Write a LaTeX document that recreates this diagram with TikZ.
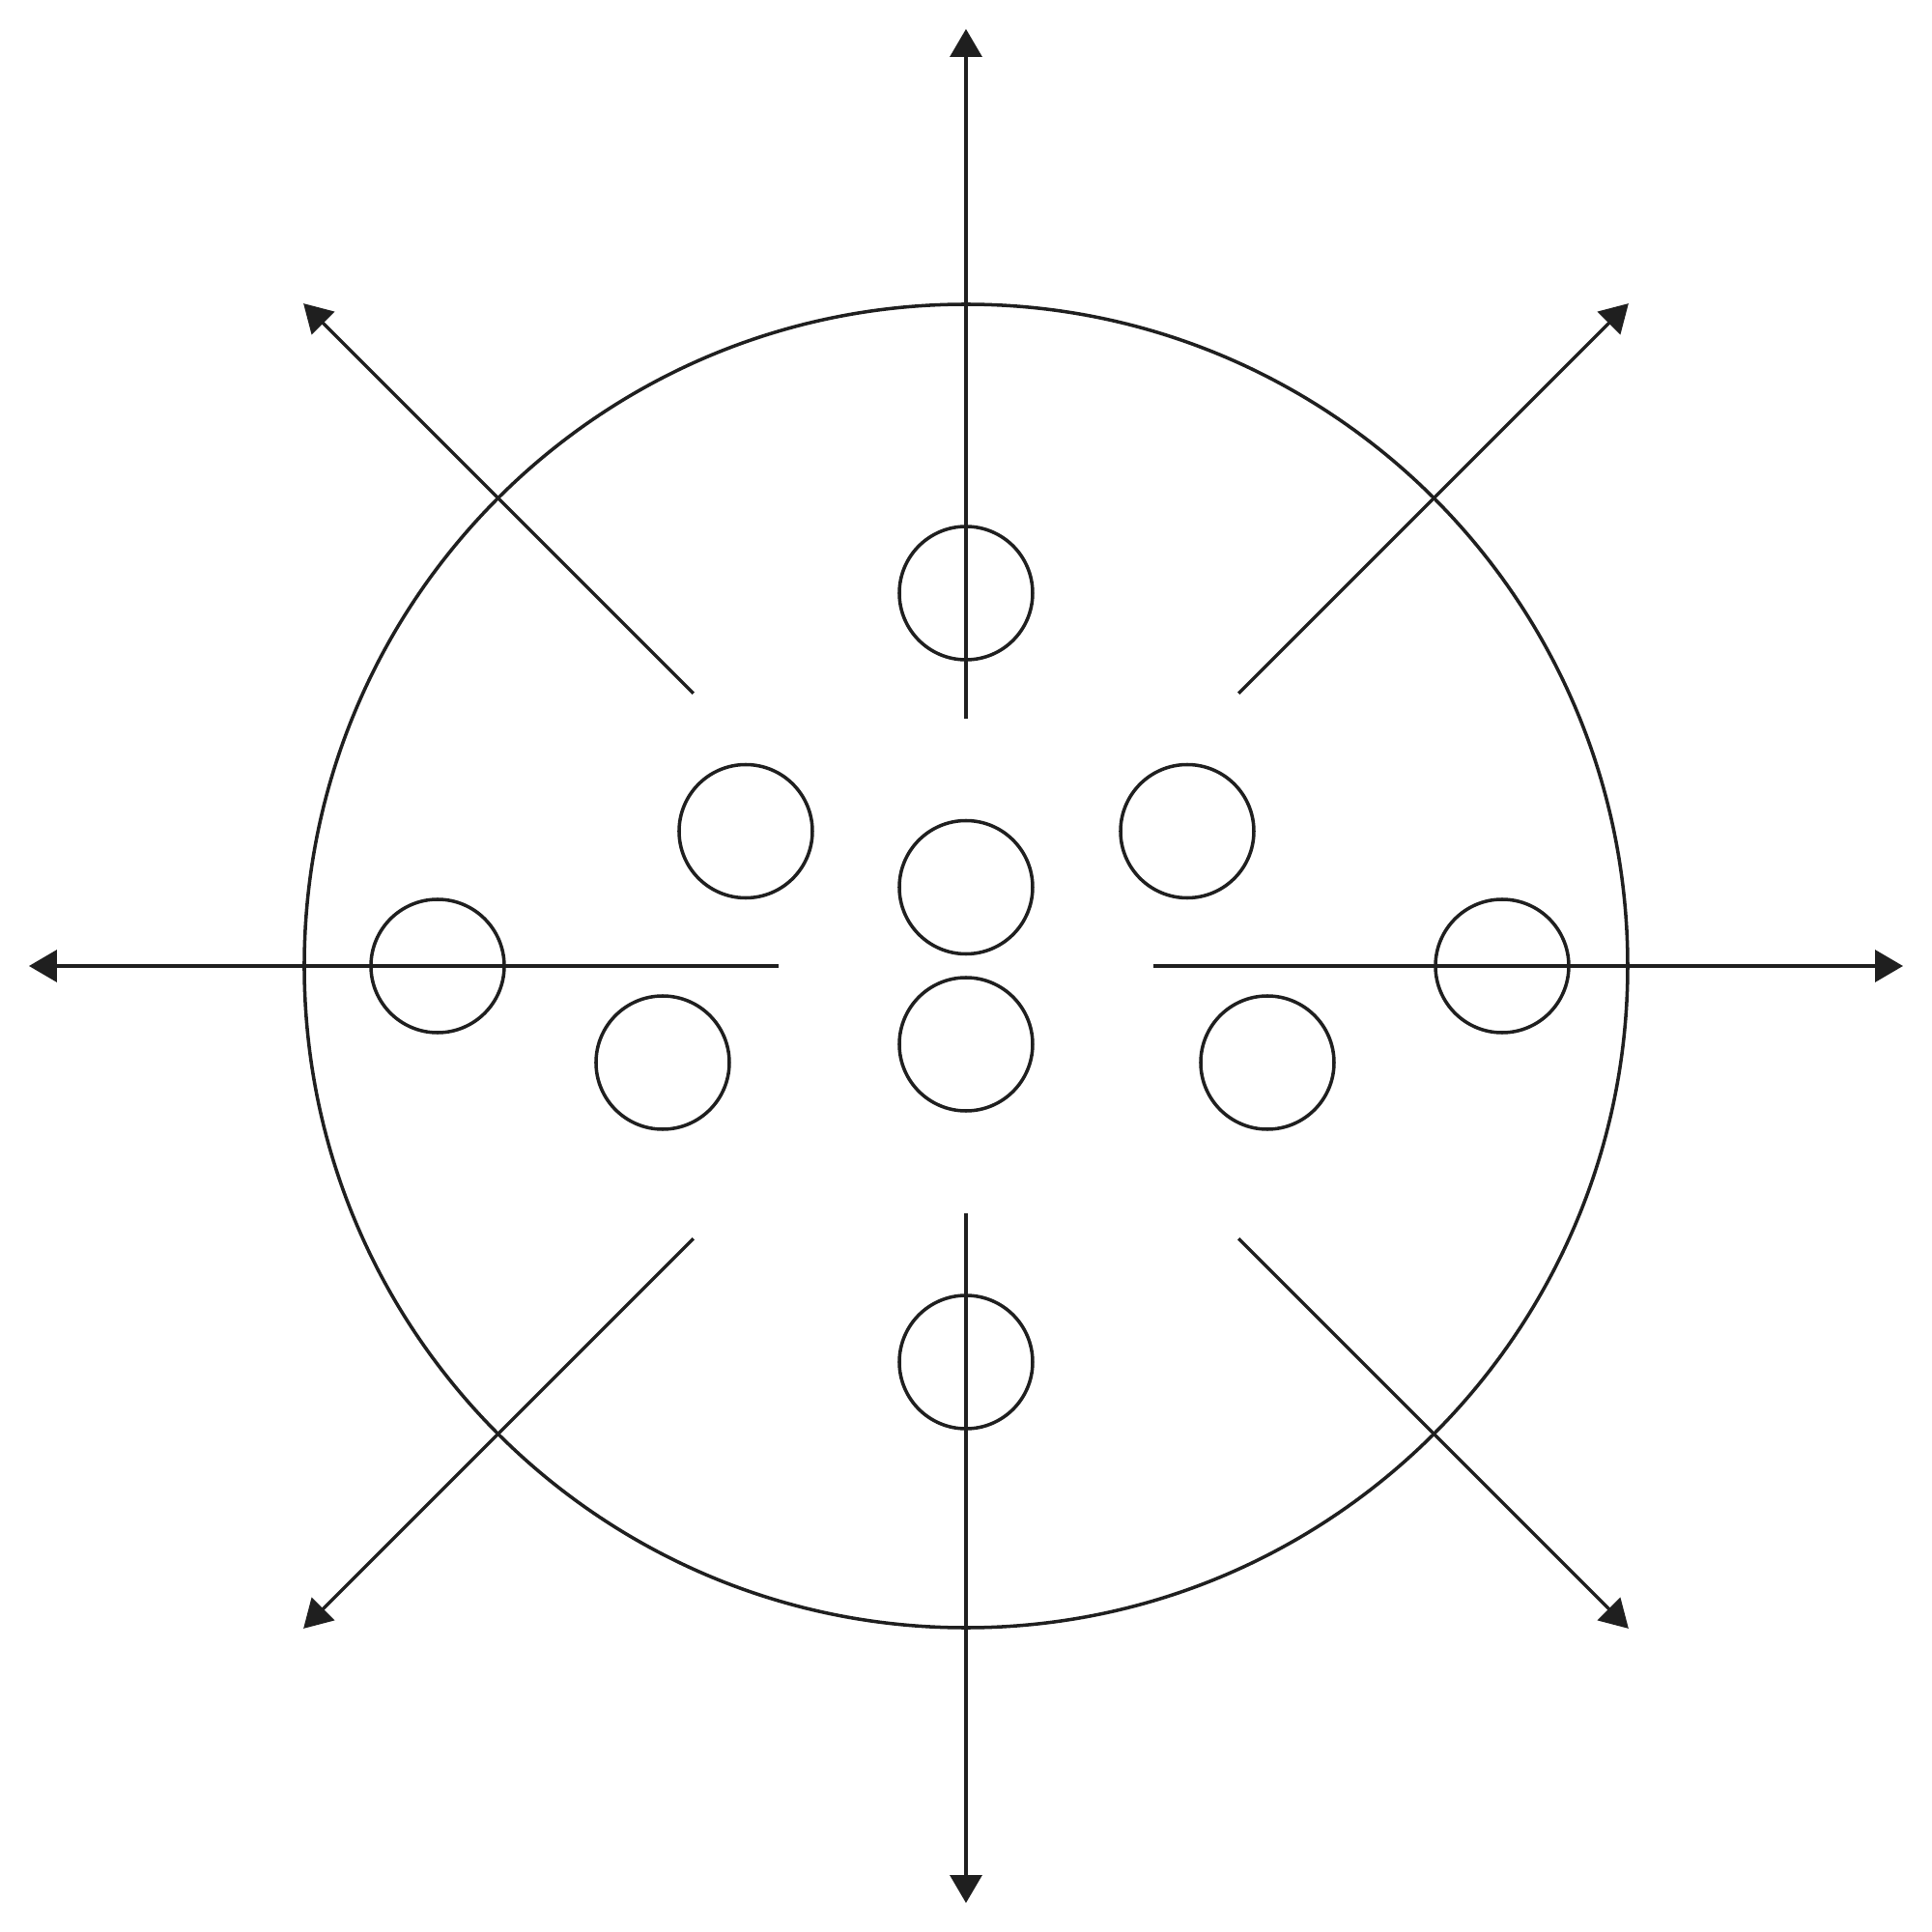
\documentclass[tikz,border=0pt]{standalone}
\usetikzlibrary{calc}
\usetikzlibrary{arrows.meta}

\begin{document}
\begin{tikzpicture}[line width=1pt, color=black!88]
\def\zacetki{{1.94,3.99,2.56,3.99,1.94,3.99,2.56,3.99}}
\useasboundingbox (-10,-10) rectangle (10,10);
\pgfmathsetmacro{\k}{360 / 8};
\node[draw, circle, minimum size=13.7cm, inner sep=0pt] (krog) at (0,0) {};
\foreach \i in {0,...,7} {
  \pgfmathsetmacro{\razdalja}{\zacetki[\i]};
  \coordinate (z_\i) at (\i*\k:\razdalja);
  \coordinate (t_\i) at (\i*\k:9.7);
  \draw[-{Triangle[length=2.9mm,width=3.3mm]}] (z_\i) -- (t_\i);
}
\foreach \x/\y [count=\i] in {0/3.86,0/-4.10,0/0.815,0/-0.81,-2.28/1.395,2.29/1.395,-5.47/0,5.55/0,-3.14/-1.00,3.12/-1.00} {
  \node[draw, circle, minimum size=1.38cm, inner sep=0pt] (k_\i) at (\x,\y) {};
}
\end{tikzpicture}
\end{document}
